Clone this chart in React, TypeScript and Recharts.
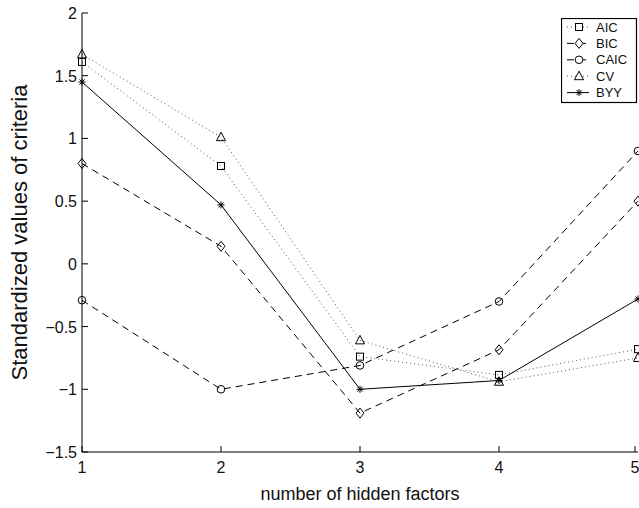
import React from "react";
import { LineChart, Line, XAxis, YAxis, Legend } from "recharts";

const FONT = "'Liberation Sans', Arial, Helvetica, sans-serif";

const factors = [1, 2, 3, 4, 5];
const aic = [1.61, 0.78, -0.74, -0.885, -0.68];
const bic = [0.8, 0.14, -1.19, -0.685, 0.5];
const caic = [-0.29, -1.0, -0.81, -0.3, 0.9];
const cv = [1.67, 1.01, -0.61, -0.94, -0.75];
const byy = [1.45, 0.47, -1.0, -0.93, -0.28];

const xTicks = [1, 2, 3, 4, 5];
const yTicks = [-1.5, -1, -0.5, 0, 0.5, 1, 1.5, 2];

const SERIES = [
  { key: "AIC", values: aic, marker: "square", dash: "1 3", color: "#555" },
  { key: "BIC", values: bic, marker: "diamond", dash: "7 5", color: "#000" },
  { key: "CAIC", values: caic, marker: "circle", dash: "7 5", color: "#000" },
  { key: "CV", values: cv, marker: "triangle", dash: "1 3", color: "#555" },
  { key: "BYY", values: byy, marker: "star", dash: undefined, color: "#000" },
];

const data = factors.map((f, i) => {
  const row: Record<string, number> = { n: f };
  for (const s of SERIES) row[s.key] = s.values[i];
  return row;
});

const fmt = (v: number) => String(v).replace("-", "\u2212");

function Marker({ kind, cx, cy, fill = "none" }: { kind: string; cx: number; cy: number; fill?: string }) {
  const s = { stroke: "#000", strokeWidth: 1, fill };
  switch (kind) {
    case "square":
      return <rect x={cx - 3.5} y={cy - 3.5} width={7} height={7} {...s} />;
    case "diamond":
      return <polygon points={`${cx},${cy - 5} ${cx + 4},${cy} ${cx},${cy + 5} ${cx - 4},${cy}`} {...s} />;
    case "circle":
      return <circle cx={cx} cy={cy} r={3.8} {...s} />;
    case "triangle":
      return <polygon points={`${cx},${cy - 5} ${cx + 4.5},${cy + 3.5} ${cx - 4.5},${cy + 3.5}`} {...s} />;
    default: {
      const r = 3.5, d = 2.5;
      return (
        <g stroke="#000" strokeWidth={1}>
          <line x1={cx - r} y1={cy} x2={cx + r} y2={cy} />
          <line x1={cx} y1={cy - r} x2={cx} y2={cy + r} />
          <line x1={cx - d} y1={cy - d} x2={cx + d} y2={cy + d} />
          <line x1={cx - d} y1={cy + d} x2={cx + d} y2={cy - d} />
        </g>
      );
    }
  }
}

const makeDot = (kind: string) => (props: any) => {
  const { cx, cy, index } = props;
  return <Marker key={`${kind}-${index}`} kind={kind} cx={cx} cy={cy} />;
};

const BottomTick = (props: any) => {
  const { x, y, payload } = props;
  return (
    <g>
      <line x1={x} y1={y} x2={x} y2={y - 6} stroke="#000" />
      <text x={x} y={y + 21} textAnchor="middle" fontSize={16} fontFamily={FONT} fill="#111">
        {fmt(payload.value)}
      </text>
    </g>
  );
};

const TopTick = (props: any) => {
  const { x, y } = props;
  return <line x1={x} y1={y} x2={x} y2={y + 6} stroke="#000" />;
};

const LeftTick = (props: any) => {
  const { x, y, payload } = props;
  return (
    <g>
      <line x1={x} y1={y} x2={x + 6} y2={y} stroke="#000" />
      <text x={x - 5} y={y + 6} textAnchor="end" fontSize={16} fontFamily={FONT} fill="#111">
        {fmt(payload.value)}
      </text>
    </g>
  );
};

const RightTick = (props: any) => {
  const { x, y } = props;
  return <line x1={x} y1={y} x2={x - 6} y2={y} stroke="#000" />;
};

const LegendBox = () => (
  <svg width={77} height={86} style={{ display: "block" }}>
    <rect x={0.5} y={0.5} width={75} height={84} fill="#fff" stroke="#000" strokeWidth={1.2} />
    {SERIES.map((s, i) => {
      const cy = 9 + i * 16.4;
      return (
        <g key={s.key}>
          <line x1={6} y1={cy} x2={28} y2={cy} stroke={s.color} strokeDasharray={s.dash} />
          <Marker kind={s.marker} cx={18} cy={cy} fill="#fff" />
          <text x={35} y={cy + 4.5} fontSize={13} fontFamily={FONT} fill="#111">
            {s.key}
          </text>
        </g>
      );
    })}
  </svg>
);

export default function App() {
  return (
    <div style={{ position: "absolute", left: 0, top: 0, width: 639, height: 508, background: "#fff" }}>
      <LineChart width={639} height={508} data={data} margin={{ top: 13, right: 1, left: 0, bottom: 0 }}>
        <XAxis
          dataKey="n"
          type="number"
          domain={[1, 5]}
          ticks={xTicks}
          height={56}
          tickSize={0}
          tickMargin={0}
          tickLine={false}
          tick={BottomTick}
          axisLine={{ stroke: "#000" }}
          label={{ value: "number of hidden factors", position: "insideBottom", offset: 8, fontSize: 18, fontFamily: FONT, fill: "#111" }}
        />
        <XAxis
          xAxisId="top"
          orientation="top"
          dataKey="n"
          type="number"
          domain={[1, 5]}
          ticks={xTicks}
          height={0}
          tickSize={0}
          tickMargin={0}
          tickLine={false}
          tick={TopTick}
          axisLine={{ stroke: "#000" }}
        />
        <YAxis
          type="number"
          domain={[-1.5, 2]}
          ticks={yTicks}
          width={82}
          tickSize={0}
          tickMargin={0}
          tickLine={false}
          tick={LeftTick}
          axisLine={{ stroke: "#000" }}
          label={{ value: "Standardized values of criteria", angle: -90, position: "insideLeft", offset: 19, fontSize: 22, fontFamily: FONT, fill: "#111", style: { textAnchor: "middle" } }}
        />
        <YAxis
          yAxisId="right"
          orientation="right"
          type="number"
          domain={[-1.5, 2]}
          ticks={yTicks}
          width={0}
          tickSize={0}
          tickMargin={0}
          tickLine={false}
          tick={RightTick}
          axisLine={{ stroke: "#000" }}
        />
        {SERIES.map((s) => (
          <Line
            key={s.key}
            dataKey={s.key}
            type="linear"
            stroke={s.color}
            strokeWidth={1}
            strokeDasharray={s.dash}
            dot={makeDot(s.marker)}
            activeDot={false}
            isAnimationActive={false}
          />
        ))}
        <Legend
          layout="vertical"
          align="center"
          verticalAlign="middle"
          content={() => <LegendBox />}
          wrapperStyle={{ left: 561, top: 18, width: 77, height: 86 }}
        />
      </LineChart>
    </div>
  );
}
